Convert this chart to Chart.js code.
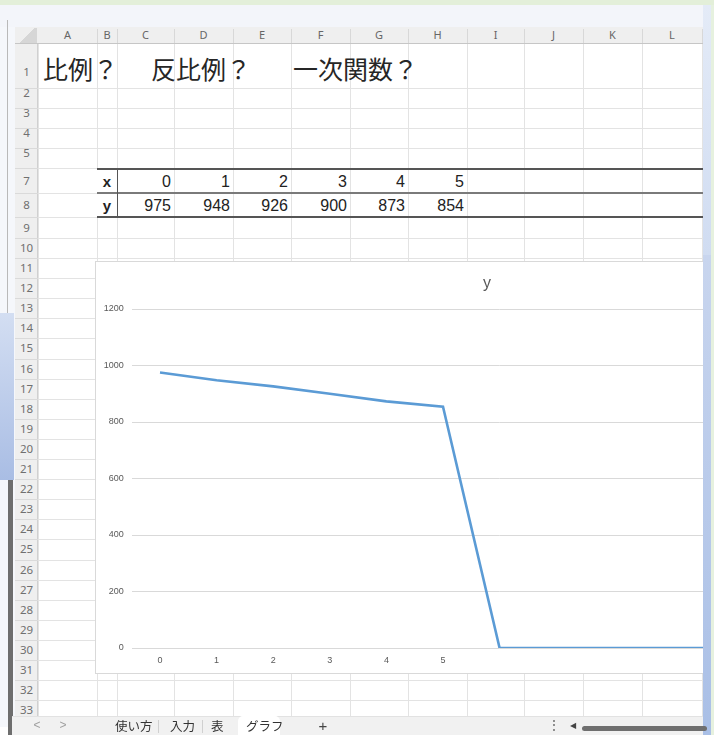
<!DOCTYPE html>
<html><head><meta charset="utf-8">
<script src="https://cdn.jsdelivr.net/npm/chart.js@4"></script>
<style>
html,body{margin:0;padding:0;width:714px;height:735px;overflow:hidden;background:#fff;font-family:"Liberation Sans",Arial,sans-serif;}
.a{position:absolute;box-sizing:border-box;}
</style></head><body>
<div id="root" class="a" style="left:0;top:0;width:714px;height:735px;"></div>
<script>
// ---- data ----
const categories = ['0','1','2','3','4','5','','','','','','',''];
const yValues = [975,948,926,900,873,854,0,0,0,0,0,0,0];
const yMin = 0, yMax = 1200, yStep = 200;
const tableX = [0,1,2,3,4,5];
const tableY = [975,948,926,900,873,854];
const columnLetters = ['A','B','C','D','E','F','G','H','I','J','K','L'];
const titleParts = ['比例？','反比例？','一次関数？'];
const sheetTabs = ['使い方','入力','表','グラフ'];
const chartTitle = 'y';

// ---- layout helpers ----
const root = document.getElementById('root');
function box(l,t,w,h,style){const d=document.createElement('div');d.className='a';
  d.style.cssText=`left:${l}px;top:${t}px;width:${w}px;height:${h}px;`+(style||'');root.appendChild(d);return d;}
function text(s,l,t,w,h,style){const d=box(l,t,w,h,'line-height:'+h+'px;white-space:nowrap;'+(style||''));d.textContent=s;return d;}

const colX = [38,97,117,174,233,291,350,408,467,524,583,642,702];
const rowDefs = [[1,44,88],[2,88,108],[3,108,128],[4,128,148],[5,148,168],[7,168,193],[8,193,217],[9,217,238],[10,238,258]];
for(let r=11;r<=33;r++){const t=258+(r-11)*20.1;rowDefs.push([r,t,t+20.1]);}

// top strips
box(0,0,714,5,'background:#e3efd9;');
box(0,5,703,22,'background:#f3f5fa;');
box(0,27,15,700,'background:#f5f7fb;');
box(7,20,1,293,'background:#b9b9b9;');
box(0,313,14,167,'background:linear-gradient(180deg,#d3def2,#a9bde4);');
box(8,480,5,255,'background:#6e6e6e;');
// right strip
box(703,5,8,730,'background:linear-gradient(180deg,#e4ebf7,#a9bfe6);');
box(711,5,3,730,'background:#e6f1df;');

// headers
box(15,27,688,17,'background:#efefef;border-bottom:1px solid #c6c6c6;');
box(15,44,23,672,'background:#efefef;border-right:1px solid #d0d0d0;');
box(16,28,21,15,'background:linear-gradient(135deg,#efefef 50%,#d6d6d6 50%);');
columnLetters.forEach((c,i)=>{
  text(c,colX[i],27,colX[i+1]-colX[i],16,'text-align:center;font-size:11px;color:#666;font-family:"Noto Sans",sans-serif;');
  box(colX[i+1],29,1,14,'background:#d8d8d8;');
});
// grid
rowDefs.forEach(([r,t,b],i)=>{
  box(38,b,664,1,'background:#e3e3e3;');
  box(15,b,23,1,'background:#dadada;');
  let cy=(t+b)/2; if(r===1) cy=72; if(r>=2&&r<=5) cy=t+5;
  text(String(r),15,cy-8,23,16,'text-align:center;font-size:11.5px;color:#707070;font-family:"Noto Sans",sans-serif;');
});
colX.forEach(x=>box(x,44,1,672,'background:#e3e3e3;'));

// title text in row 1
const titleX=[43,151,293];
titleParts.forEach((s,i)=>text(s,titleX[i],50,200,36,'font-size:25px;color:#262626;font-family:"Noto Sans CJK JP",sans-serif;'));

// table
box(97,169,606,48,'background:#fff;');
for(let i=2;i<colX.length;i++){box(colX[i],169,1,48,'background:#e3e3e3;');}
box(97,168,606,2,'background:#555;');
box(97,192,606,1.5,'background:#7a7a7a;');
box(97,216,606,2,'background:#555;');
box(117,168,1,50,'background:#555;');
text('x',97,172,20,20,'text-align:center;font-size:15px;font-weight:bold;color:#222;');
text('y',97,196,20,20,'text-align:center;font-size:15px;font-weight:bold;color:#222;');
tableX.forEach((v,i)=>text(String(v),colX[i+2],171,colX[i+3]-colX[i+2]-3,22,'text-align:right;font-size:16px;color:#222;'));
tableY.forEach((v,i)=>text(String(v),colX[i+2],195,colX[i+3]-colX[i+2]-3,22,'text-align:right;font-size:16px;color:#222;'));

// chart container
const cbox = box(95,261,784,413,'background:#fff;border:1px solid #d9d9d9;');
const inner = document.createElement('div');
inner.style.cssText='position:relative;width:782px;height:411px;';
cbox.appendChild(inner);
const cv=document.createElement('canvas');inner.appendChild(cv);

// cover for right strip above chart
box(703,255,8,480,'background:linear-gradient(180deg,#c8d5ee,#a9bfe6);');
box(711,255,3,480,'background:#e6f1df;');

// tab bar
box(12,716,691,19,'background:#f1f1f1;border-top:1px solid #e2e2e2;');
box(238,716,42,19,'background:#fff;border-radius:5px 5px 0 0;');
box(158,720,1,13,'background:#d0d0d0;');
box(202,720,1,13,'background:#d0d0d0;');
text('<',30,716,14,19,'text-align:center;font-size:12px;color:#a0a0a0;');
text('>',56,716,14,19,'text-align:center;font-size:12px;color:#a0a0a0;');
const tabX=[115,170,211,246];
sheetTabs.forEach((s,i)=>text(s,tabX[i],716,60,19,'font-size:12.5px;color:#333;font-family:"Noto Sans CJK JP",sans-serif;'));
text('+',316,716,14,19,'text-align:center;font-size:15px;color:#444;');
text('⋮',548,716,10,19,'text-align:center;font-size:12px;color:#555;');
text('◀',568,716,10,19,'text-align:center;font-size:8px;color:#444;');
box(582,726,125,5,'background:#6f6f6f;border-radius:3px;');

// ---- chart ----
new Chart(cv,{
  type:'line',
  data:{labels:categories,datasets:[{label:chartTitle,data:yValues,borderColor:'#5b9bd5',borderWidth:2.6,pointRadius:0,tension:0,fill:false,yAxisID:'y'}]},
  options:{
    responsive:true,maintainAspectRatio:false,animation:false,
    layout:{padding:0},
    plugins:{legend:{display:false},tooltip:{enabled:false},
      title:{display:true,text:chartTitle,color:'#595959',font:{family:'Liberation Sans',size:16,weight:'normal'},padding:{top:12.4,bottom:15.4}}},
    scales:{
      x:{offset:true,grid:{display:false,drawTicks:false},border:{display:false},
         ticks:{color:'#595959',font:{family:'Liberation Sans',size:9},padding:7.6,maxRotation:0,autoSkip:false},
         afterFit(s){s.height=25;}},
      y:{min:yMin,max:yMax,
         ticks:{stepSize:yStep,color:'#595959',font:{family:'Liberation Sans',size:9},padding:8,callback:v=>String(v)},
         grid:{color:'#d9d9d9',drawTicks:false},border:{display:false},
         afterFit(s){s.width=35.7;}},
      yPad:{position:'right',display:true,grid:{display:false,drawTicks:false},border:{display:false},
         ticks:{display:false},afterFit(s){s.width=10.5;}}
    }
  }
});
</script>
</body></html>
